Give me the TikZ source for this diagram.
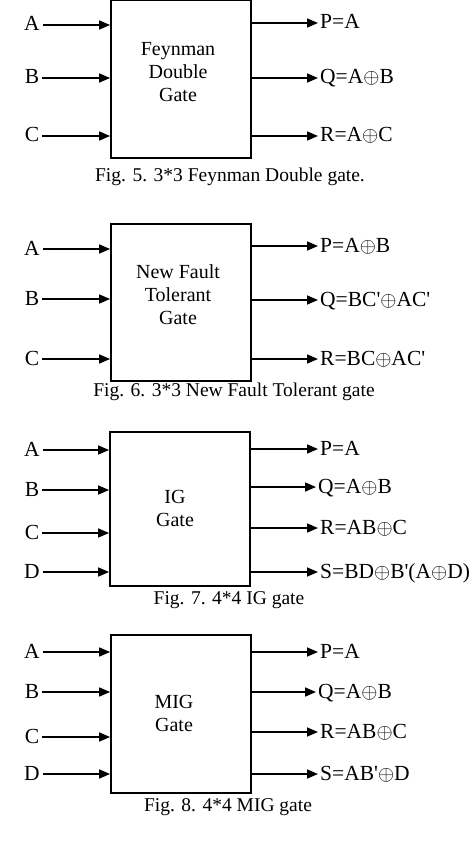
\documentclass[tikz,border=0pt]{standalone}
\usepackage{fontspec}
\setmainfont{Liberation Serif}
\usetikzlibrary{arrows.meta}

\begin{document}
\begin{tikzpicture}[x=1pt,y=-1pt,
    gate/.style={draw,line width=1.8pt,minimum width=140pt,minimum height=#1,inner sep=0pt},
    lbl/.style={font=\fontsize{21.5}{21.5}\selectfont,inner ysep=0pt,text height=12pt,text depth=0pt},
    inlbl/.style={lbl,inner xsep=3pt},
    outlbl/.style={lbl,anchor=west,inner xsep=2pt},
    gname/.style={font=\fontsize{20}{23}\selectfont,align=center},
    figcap/.style={font=\fontsize{19.5}{20}\selectfont},
    wire/.style={line width=1.6pt,-{Triangle[length=11pt,width=9pt]}}]
\useasboundingbox (0,0) rectangle (474,845);

% Fig. 5
\node[gate=158pt] (g5) at (181,79) {};
\node[gname] (t5) at (178,72) {Feynman\\Double\\Gate};
\foreach \n/\y in {A/25,B/78,C/136}{
    \node[inlbl] (i5\n) at (32,\y) {\n};
    \draw[wire] (i5\n) -- (i5\n -| g5.west);
}
\node[outlbl] (o5P) at (318,23) {P=A};
\node[outlbl] (o5Q) at (318,78) {Q=A$\oplus$B};
\node[outlbl] (o5R) at (318,136) {R=A$\oplus$C};
\foreach \n in {P,Q,R}
    \draw[wire] (g5.east |- o5\n) -- (o5\n);
\node[figcap] (c5) at (230,177) {Fig. 5. 3*3 Feynman Double gate.};

% Fig. 6
\node[gate=157pt] (g6) at (181,302.5) {};
\node[gname] (t6) at (178,295) {New Fault\\Tolerant\\Gate};
\foreach \n/\y in {A/249,B/299,C/359}{
    \node[inlbl] (i6\n) at (32,\y) {\n};
    \draw[wire] (i6\n) -- (i6\n -| g6.west);
}
\node[outlbl] (o6P) at (318,246) {P=A$\oplus$B};
\node[outlbl] (o6Q) at (318,300) {Q=BC\textquotesingle$\oplus$AC\textquotesingle};
\node[outlbl] (o6R) at (318,359) {R=BC$\oplus$AC\textquotesingle};
\foreach \n in {P,Q,R}
    \draw[wire] (g6.east |- o6\n) -- (o6\n);
\node[figcap] (c6) at (234,392) {Fig. 6. 3*3 New Fault Tolerant gate};

% Fig. 7
\node[gate=154pt] (g7) at (180,509) {};
\node[gname] (t7) at (175,508) {IG\\Gate};
\foreach \n/\y in {A/450,B/490,C/533,D/572}{
    \node[inlbl] (i7\n) at (32,\y) {\n};
    \draw[wire] (i7\n) -- (i7\n -| g7.west);
}
\node[outlbl] (o7P) at (318,449) {P=A};
\node[outlbl] (o7Q) at (316,487) {Q=A$\oplus$B};
\node[outlbl] (o7R) at (318,528) {R=AB$\oplus$C};
\node[outlbl] (o7S) at (318,572) {S=BD$\oplus$B\textquotesingle(A$\oplus$D)};
\foreach \n in {P,Q,R,S}
    \draw[wire] (g7.east |- o7\n) -- (o7\n);
\node[figcap] (c7) at (229,600) {Fig. 7. 4*4 IG gate};

% Fig. 8
\node[gate=158pt] (g8) at (181,714) {};
\node[gname] (t8) at (174,713) {MIG\\Gate};
\foreach \n/\y in {A/652,B/692,C/737,D/774}{
    \node[inlbl] (i8\n) at (32,\y) {\n};
    \draw[wire] (i8\n) -- (i8\n -| g8.west);
}
\node[outlbl] (o8P) at (318,652) {P=A};
\node[outlbl] (o8Q) at (316,692) {Q=A$\oplus$B};
\node[outlbl] (o8R) at (318,732) {R=AB$\oplus$C};
\node[outlbl] (o8S) at (318,774) {S=AB\textquotesingle$\oplus$D};
\foreach \n in {P,Q,R,S}
    \draw[wire] (g8.east |- o8\n) -- (o8\n);
\node[figcap] (c8) at (228,807) {Fig. 8. 4*4 MIG gate};
\end{tikzpicture}
\end{document}
